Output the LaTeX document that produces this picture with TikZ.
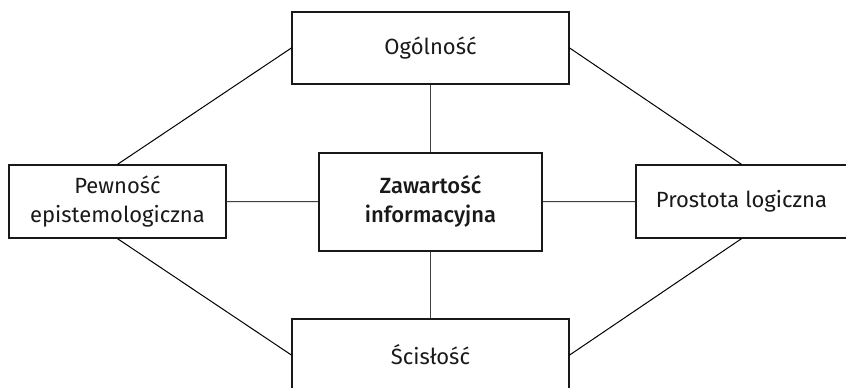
\documentclass[tikz,border=0pt]{standalone}
\usepackage{fontspec}
\setmainfont{Fira Sans}[BoldFont={Fira Sans Medium}]
\begin{document}
\begin{tikzpicture}[x=1pt,y=-1pt,
  box/.style={draw=black!90,line width=1.3pt,fill=white,inner sep=0pt,align=center,
    font=\fontsize{22}{29}\selectfont,text=black!90},
  mainbox/.style={box,line width=2.2pt,font=\fontsize{22}{29}\selectfont\bfseries},
  link/.style={draw=black!75,line width=1pt}]
\useasboundingbox (0,0) rectangle (846,388);
\begin{scope}
\clip (0,0) rectangle (846,388);
% central concept and its four neighbours
\node[mainbox,minimum width=223pt,minimum height=98pt] (c) at (430.5,201.7) {Zawartość\\informacyjna};
\node[box,minimum width=277pt,minimum height=72pt] (t) at (430.5,48) {Ogólność};
\node[box,minimum width=277pt,minimum height=72pt] (b) at (430.5,355) {Ścisłość};
\node[box,minimum width=217pt,minimum height=73pt] (l) at (117.5,201.5) {Pewność\\epistemologiczna};
\node[box,minimum width=211pt,minimum height=73pt] (r) at (741.5,201.5) {Prostota logiczna};
% spokes from the centre
\draw[link] (c.north) -- (t.south);
\draw[link] (c.south) -- (b.north);
\draw[link] (c.west) -- (l.east);
\draw[link] (c.east) -- (r.west);
% outer ring
\draw[link,draw=black] (t.west) -- (l.north);
\draw[link,draw=black] (l.south) -- (b.west);
\draw[link,draw=black] (t.east) -- (r.north);
\draw[link,draw=black] (r.south) -- (b.east);
\end{scope}
\end{tikzpicture}
\end{document}
